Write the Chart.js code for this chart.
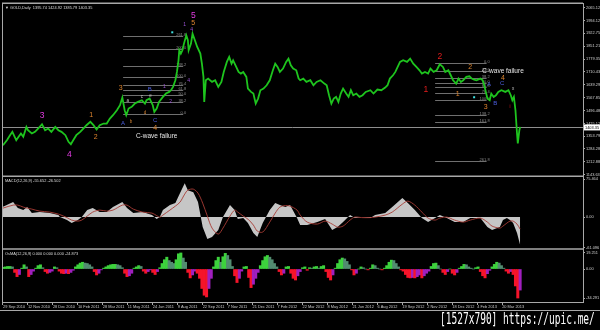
<!DOCTYPE html>
<html><head><meta charset="utf-8">
<script src="https://cdn.jsdelivr.net/npm/chart.js@4.4.1/dist/chart.umd.min.js"></script>
<style>
html,body{margin:0;padding:0;background:#000;width:600px;height:330px;overflow:hidden;}
#wrap{position:relative;width:600px;height:330px;background:#000;}
#c{position:absolute;left:0;top:0;}
#wm{position:absolute;left:440px;top:312px;font-family:'DejaVu Sans Mono',monospace;font-size:15px;line-height:15px;color:#fff;white-space:nowrap;transform:scaleX(0.635);transform-origin:0 0;}
</style></head><body>
<div id="wrap"><canvas id="c" width="600" height="330"></canvas><div id="wm">[1527x790] https://upic.me/</div></div>
<script>
// ---------------- DATA ----------------
const symbolTitle = 'GOLD,Daily';
const ohlc = [1395.74, 1424.92, 1385.79, 1403.35];
const lastPrice = 1403.35;

// x positions are bar (trading-day) indices from 29 Sep 2010
const dateBars = [0,32,64,96,128,160,192,224,256,288,320,352,384,416,448,480,512,544,576,608,640];
const dateLabels = ['29 Sep 2010','12 Nov 2010','28 Dec 2010','10 Feb 2011','28 Mar 2011','11 May 2011','24 Jun 2011','9 Aug 2011','22 Sep 2011','7 Nov 2011','21 Dec 2011','7 Feb 2012','22 Mar 2012','8 May 2012','21 Jun 2012','6 Aug 2012','19 Sep 2012','2 Nov 2012','18 Dec 2012','4 Feb 2013','20 Mar 2013'];

const priceBars = [0,5,9,12,15,17,20,23,26,30,32,37,41,45,50,54,58,62,67,71,75,80,84,87,90,94,99,103,107,112,116,120,124,129,133,137,141,146,150,153,156,158,161,165,169,173,178,182,184,188,192,194,197,200,205,209,213,216,218,221,223,225,226,228,230,232,235,237,238,241,243,246,249,253,255,257,258,260,263,268,272,276,280,283,287,290,293,295,299,302,305,308,312,314,318,321,324,327,330,334,338,342,346,349,352,355,359,363,366,369,372,376,379,
381,385,389,394,398,402,407,412,415,418,421,424,427,430,433,436,440,443,446,449,453,457,461,465,471,475,480,485,490,493,496,500,503,506,509,513,518,522,526,530,534,537,541,545,548,552,556,560,564,567,571,574,577,581,584,587,590,594,598,601,604,607,612,615,617,619,621,624,626,629,632,635,639,644,648,651,653,655,657,659,660,662,663];
const priceVals = [1305.3,1332.9,1360.5,1378.9,1351.3,1332.9,1351.3,1369.7,1351.3,1406.5,1388.1,1369.7,1378.9,1397.3,1421.2,1388.1,1397.3,1378.9,1406.5,1388.1,1378.9,1360.5,1323.7,1310.8,1332.9,1360.5,1378.9,1397.3,1415.7,1434.1,1415.7,1391.8,1415.7,1424.9,1424.9,1452.4,1470.8,1498.4,1526.0,1568.3,1498.4,1470.8,1507.6,1516.8,1535.2,1544.4,1553.6,1535.2,1553.6,1562.8,1526.0,1489.2,1507.6,1544.4,1572.0,1590.4,1599.6,1612.5,1627.2,1664.0,1710.0,1774.3,1829.5,1811.1,1829.5,1866.3,1912.3,1884.7,1829.5,1866.3,1921.5,1884.7,1847.9,1811.1,1755.9,1682.4,1544.4,1664.0,1673.2,1654.8,1664.0,1627.2,1654.8,1710.0,1765.1,1792.7,1755.9,1774.3,1737.5,1710.0,1700.8,1710.0,1682.4,1618.0,1599.6,1590.4,1535.2,1562.8,1608.8,1618.0,1636.4,1664.0,1719.1,1755.9,1737.5,1710.0,1728.3,1765.1,1783.5,1746.7,1728.3,1719.1,1673.2,
1664.0,1673.2,1654.8,1664.0,1636.4,1654.8,1664.0,1645.6,1636.4,1581.2,1535.2,1562.8,1572.0,1544.4,1590.4,1618.0,1590.4,1572.0,1608.8,1581.2,1590.4,1572.0,1581.2,1599.6,1608.8,1590.4,1612.5,1608.8,1623.5,1636.4,1673.2,1691.6,1710.0,1737.5,1765.1,1774.3,1765.1,1783.5,1755.9,1737.5,1719.1,1700.8,1710.0,1700.8,1728.3,1710.0,1719.1,1752.3,1737.5,1710.0,1719.1,1691.6,1664.0,1645.6,1673.2,1654.8,1664.0,1682.4,1686.0,1673.2,1667.6,1664.0,1673.2,1664.0,1636.4,1599.6,1562.8,1553.6,1590.4,1572.0,1581.2,1599.6,1608.8,1599.6,1608.8,1581.2,1553.6,1572.0,1498.4,1369.7,1314.5,1388.1,1406.5];

const priceTickVals = [2065.12,1994.12,1922.75,1851.21,1779.35,1710.43,1639.29,1567.85,1496.48,1425.12,1353.79,1284.28,1212.88,1143.63];

const macdBars = [0,13,19,26,31,37,47,60,71,73,82,88,96,101,108,115,124,133,141,153,159,167,179,191,197,201,205,214,221,227,233,237,244,250,256,262,268,276,282,291,297,301,308,314,321,326,333,342,349,355,362,368,377,381,390,403,413,422,429,436,445,451,460,471,477,490,499,512,519,528,537,545,554,560,569,579,590,599,612,621,627,637,641,646,650,654,659,663];
const macdVals = [20.6,30,18,14,20,8,10,8,4,0,-6,-12,-6,0,14,18,10,10,20,30,18,8,10,4,-4,0,14,24,28,48,68,54,50,30,-20,-44,-40,-26,0,24,14,-4,-2,-12,-32,-40,-12,14,28,24,20,24,-2,-16,-16,-10,-4,-26,-20,-10,4,-2,0,-2,4,8,20,38,28,14,-2,-10,-2,4,-2,-10,-10,-2,-2,-20,-26,-20,-6,-2,-6,-12,-32,-56];
const macdSignal = [18,24,24,20,18,16,12,10,6,5,-1,-6,-8,-6,2,10,14,12,14,24,24,16,10,8,3,0,4,14,22,30,46,54,56,48,28,2,-22,-34,-22,2,14,10,2,-4,-16,-28,-30,-10,8,20,23,22,14,4,-10,-14,-8,-14,-20,-18,-6,0,-1,-1,0,4,10,26,32,24,10,-2,-6,-2,0,-6,-10,-6,-2,-10,-18,-22,-18,-12,-8,-8,-14,-24];
const macdTickVals = [75.464, 0, -61.096];
const macdTickLabels = ['75.464', '0.00', '-61.096'];
const macdHeader = [-55.652, -26.502];

const osmaStep = 3; // one histogram bar every 3 trading days
const osmaVals = [2,2.5,3,3,2.5, -4,-9,-6.5, 1, 5,2.5, -9,-6.5,-2.5, 1, 4,5,1.5, -3,-5,-4,-2.5, 2.5,1.5, -2.5,-5,-5.5,-5,-5.5,-4,-1.5, 2.5,5,7,8,7,6.5,5,2.5, -3,-7,-5, -1,1, 2.5,4,5,5.5,5.5,5,4,1.5, -5,-9,-8,-5, 1, 2.5,4,3, -2.5,-5,-3, -1, -4,-6.5,-3, 1.5, 6.5,11,14, 10,8,6.5, 11,18,19, 13,8, -4,-10.5,-7, -2.5,-5, -11,-23,-31,-33, -23,-11, 2.5, 10,14, 8, 14.5,18.5,16,11, 3, -8,-16,-11, -2.5, 2.5,3, -10,-22,-18, -11,-4, 4,10,14.5,16,14,11,6.5, 2.5, -3,-7,-5, 2.5,3, -5,-11,-13,-8, -3, 1.5,2.5,-1.5,1.5, 1, 2.5,3, 1, 3,4, -3,-10,-13,-7, 1, 6.5,11,13,12,9,5, -1, -7,-5, 0, 2.5,1.5, 0,-1,1, 5,4, 1,0,-1,1, 4,8,10.5,10,6.5,2.5, -1, -2.5,-6.5,-10,-10.5,-10,-10.5,-9,-7,-10.5,-8,-5,-2.5, 3,6.5,7,4, 0, -4,-6.5,-3, 0, -5,-7,-4, 1, 3,5.5,5,2.5, 1,0,1.5,2.5, -3,-8,-10.5,-5.5, -1.5, 2.5,5.5,8,7,4, 1, -2.5,-5,-3, -6.5,-20,-34.3, -24.9];
const osmaTickVals = [19.251, 0, -34.291];
const osmaTickLabels = ['19.251', '0.00', '-34.291'];
const osmaHeader = [0.000, 0.000, 0.000, -24.873];

// Elliott wave labels: [text, bar, price, degree]
const waveLabels = [
  ['5', 244, 2022.6, 'primary'], ['3', 50, 1470.8, 'primary'], ['4', 85, 1255.6, 'primary'],
  ['5', 244, 1978.5, 'intermediate'], ['1', 113, 1470.8, 'intermediate'], ['2', 119, 1349.4, 'intermediate'],
  ['3', 151, 1619.8, 'intermediate'], ['4', 195, 1399.1, 'intermediate'],
  ['2', 599, 1735.7, 'intermediate'], ['1', 583, 1586.7, 'intermediate'], ['3', 619, 1515.0, 'intermediate'], ['4', 641, 1675.0, 'intermediate'],
  ['2', 560, 1796.4, 'cycle'], ['1', 542, 1614.3, 'cycle'],
  ['A', 154, 1426.7, 'minor'], ['B', 188, 1614.3, 'minor'], ['C', 195, 1443.2, 'minor'],
  ['A', 623, 1642.2, 'minor'], ['B', 631, 1537.1, 'minor'], ['C', 640, 1646.6, 'minor'],
  ['1', 233, 1973.0, 'minute'], ['4', 242, 1945.4, 'minute'], ['1', 207, 1630.8, 'minute'], ['2', 215, 1544.2, 'minute'], ['4', 238, 1664.0, 'minute'],
  ['a', 160, 1548.0, 'sub'], ['b', 164, 1434.0, 'subOrange'], ['c', 178, 1571.8, 'sub'], ['d', 182, 1485.7, 'subOrange'], ['e', 189, 1577.3, 'sub'],
  ['x', 654, 1619.3, 'sub'], ['i', 650, 1515.0, 'cycleSmall'],
  ['C-wave failure', 197, 1354.9, 'note'], ['C-wave failure', 641, 1713.6, 'note']
];
const markerPoints = [[217, 1928.8], [604, 1570.1]];

// Fibonacci levels
const fibLeftBars = [154, 231];
const fibLeftPrices = [1906.7,1838.9,1741.2,1682.2,1640.2,1608.8,1581.2,1544.2,1480.2];
const fibLeftLabels = ['261.8','200.0','138.2','100.0','76.4','61.8','50.0','38.2','0.0'];
const fibRightBars = [554, 620];
const fibRightPrices = [1759.4,1715.3,1678.9,1651.3,1627.0,1596.1,1553.6,1470.8,1433.9,1218.7];
const fibRightLabels = ['0.0','23.6','38.2','50.0','61.8','76.4','100.0','138.2','161.8','261.8'];

// ---------------- STYLE ----------------
const fontFam = "'Liberation Sans', Arial, sans-serif";
const axisFont = {family: fontFam, size: 3.9};
const frameColor = '#a8a8a8';
const degreeStyle = {
  primary: {color:'#e23be2', size:8.5},
  cycle: {color:'#e41c1c', size:8.5},
  cycleSmall: {color:'#e41c1c', size:4.5},
  intermediate: {color:'#df852e', size:7},
  minor: {color:'#4b5fe0', size:6},
  minute: {color:'#9b52d6', size:5},
  sub: {color:'#c4c4c4', size:4.5},
  subOrange: {color:'#d08030', size:4.5},
  note: {color:'#e6e6e6', size:6.5}
};
const osmaColors = osmaVals.map((v, i) => {
  const p = i ? osmaVals[i - 1] : 0;
  if (v >= 0) return v >= p ? '#3dd23d' : '#528c70';
  return v <= p ? '#f5142a' : '#a01fbf';
});

const xMin = -1.282, xMax = 743.59;

function yAxis(weight, min, max, vals, labelFn) {
  return {
    type: 'linear', position: 'right', stack: 'panels', stackWeight: weight, min, max,
    afterBuildTicks: s => { s.ticks = vals.map(v => ({value: v})); },
    afterFit: s => { s.width = 17; },
    ticks: {autoSkip: false, padding: 1, color: '#d0d0d0', font: axisFont, callback: labelFn},
    grid: {drawOnChartArea: false, drawTicks: true, tickLength: 2, color: frameColor},
    border: {display: true, color: frameColor, width: 1}
  };
}

const overlay = {
  id: 'overlay',
  beforeDatasetsDraw(chart) {
    const {ctx, chartArea: a, scales: {x, yP}} = chart;
    ctx.save();
    ctx.lineWidth = 1;
    ctx.font = `4px ${fontFam}`;
    ctx.textAlign = 'right'; ctx.textBaseline = 'bottom';
    [[fibLeftPrices, fibLeftLabels, fibLeftBars], [fibRightPrices, fibRightLabels, fibRightBars]].forEach(([ps, ls, bs]) => {
      const x0 = x.getPixelForValue(bs[0]), x1 = x.getPixelForValue(bs[1]);
      ps.forEach((p, i) => {
        const y = Math.round(yP.getPixelForValue(p)) + 0.5;
        ctx.strokeStyle = '#6f6f6f';
        ctx.beginPath(); ctx.moveTo(x0, y); ctx.lineTo(x1, y); ctx.stroke();
        ctx.fillStyle = '#8a8a8a';
        ctx.fillText(ls[i], x1 + 3, y + 0.5);
      });
    });
    const ly = Math.round(yP.getPixelForValue(lastPrice)) + 0.5;
    ctx.strokeStyle = '#8e8e8e';
    ctx.beginPath(); ctx.moveTo(a.left, ly); ctx.lineTo(a.right, ly); ctx.stroke();
    ctx.restore();
  },
  afterDatasetsDraw(chart) {
    const {ctx, scales: {x, yP}} = chart;
    ctx.save();
    ctx.textAlign = 'center'; ctx.textBaseline = 'middle';
    waveLabels.forEach(([t, b, p, d]) => {
      const st = degreeStyle[d];
      ctx.font = `${st.size}px ${fontFam}`;
      ctx.fillStyle = st.color;
      ctx.fillText(t, x.getPixelForValue(b), yP.getPixelForValue(p));
    });
    ctx.fillStyle = '#3fe0e0';
    markerPoints.forEach(([b, p]) => {
      ctx.fillRect(x.getPixelForValue(b) - 1, yP.getPixelForValue(p) - 1, 2, 2);
    });
    ctx.restore();
  },
  afterDraw(chart) {
    const {ctx, chartArea: a, scales: {x, yP, yM, yO}} = chart;
    ctx.save();
    ctx.strokeStyle = frameColor; ctx.lineWidth = 1.5;
    [yP.top, yM.top, yO.top].forEach(t => {
      ctx.beginPath(); ctx.moveTo(a.left, t); ctx.lineTo(a.right, t); ctx.stroke();
    });
    ctx.lineWidth = 1;
    ctx.beginPath(); ctx.moveTo(a.left + 0.5, a.top); ctx.lineTo(a.left + 0.5, a.bottom); ctx.stroke();
    ctx.beginPath(); ctx.moveTo(0, x.bottom + 0.5); ctx.lineTo(chart.width, x.bottom + 0.5); ctx.stroke();
    // panel captions
    ctx.font = `3.9px ${fontFam}`; ctx.fillStyle = '#dcdcdc';
    ctx.textAlign = 'left'; ctx.textBaseline = 'middle';
    ctx.fillText('\u25BC ' + symbolTitle + '  ' + ohlc.map(v => v.toFixed(2)).join(' '), a.left + 3, yP.top + 4.5);
    ctx.fillText('MACD(12,26,9) ' + macdHeader.map(v => v.toFixed(3)).join(' '), a.left + 3, yM.top + 4.5);
    ctx.fillText('OsMA(12,26,9) ' + osmaHeader.map(v => v.toFixed(3)).join(' '), a.left + 3, yO.top + 5);
    // last price marker on the axis
    const ly = yP.getPixelForValue(lastPrice);
    ctx.fillStyle = '#ffffff';
    ctx.fillRect(a.right + 1, ly - 3, 16, 6);
    ctx.fillStyle = '#000000'; ctx.font = `3.9px ${fontFam}`;
    ctx.fillText(lastPrice.toFixed(2), a.right + 2, ly + 0.3);
    ctx.restore();
  }
};

new Chart(document.getElementById('c'), {
  type: 'line',
  data: {
    datasets: [
      {type: 'line', data: macdBars.map((b, i) => ({x: b, y: macdVals[i]})), yAxisID: 'yM', fill: 'origin',
       backgroundColor: '#c6c6c6', borderColor: '#c6c6c6', borderWidth: 0, pointRadius: 0, tension: 0, order: 5},
      {type: 'line', data: macdBars.map((b, i) => ({x: b, y: macdSignal[i]})), yAxisID: 'yM', fill: false,
       borderColor: '#a83c36', borderWidth: 0.9, pointRadius: 0, tension: 0.3, order: 4},
      {type: 'bar', data: osmaVals.map((v, i) => ({x: i * osmaStep, y: v})), yAxisID: 'yO',
       backgroundColor: osmaColors, borderWidth: 0, barPercentage: 1, categoryPercentage: 1, order: 3},
      {type: 'line', data: priceBars.map((b, i) => ({x: b, y: priceVals[i]})), yAxisID: 'yP', fill: false,
       borderColor: '#1ec41e', borderWidth: 1.8, pointRadius: 0, tension: 0, order: 1}
    ]
  },
  options: {
    responsive: false, animation: false, events: [],
    layout: {padding: {left: 2, top: 3, right: 0, bottom: 20}},
    plugins: {legend: {display: false}, tooltip: {enabled: false}},
    scales: {
      x: {
        type: 'linear', position: 'bottom', min: xMin, max: xMax, offset: false,
        afterBuildTicks: s => { s.ticks = dateBars.map(v => ({value: v})); },
        afterFit: s => { s.height = 8; },
        ticks: {autoSkip: false, maxRotation: 0, minRotation: 0, align: 'start', padding: 0, color: '#c8c8c8', font: axisFont,
                callback: v => dateLabels[dateBars.indexOf(v)]},
        grid: {drawOnChartArea: false, drawTicks: true, tickLength: 3, color: frameColor, offset: false},
        border: {display: true, color: frameColor, width: 1}
      },
      yP: yAxis(173, 1134.25, 2088.85, priceTickVals, v => v.toFixed(2)),
      yM: yAxis(73, -64, 82, macdTickVals, v => macdTickLabels[macdTickVals.indexOf(v)]),
      yO: yAxis(53, -39, 23.6, osmaTickVals, v => osmaTickLabels[osmaTickVals.indexOf(v)])
    }
  },
  plugins: [overlay]
});
</script></body></html>
